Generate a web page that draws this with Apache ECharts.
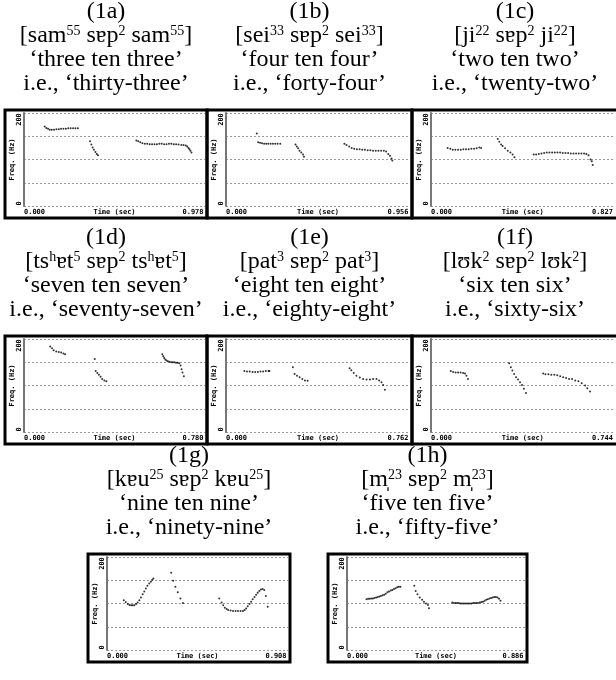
<!DOCTYPE html>
<html>
<head>
<meta charset="utf-8">
<title>Cantonese number pitch tracks</title>
<script src="https://cdn.jsdelivr.net/npm/echarts@6/dist/echarts.min.js"></script>
<style>
  html, body { margin: 0; padding: 0; background: #fff; }
  #chart { width: 616px; height: 680px; }
</style>
</head>
<body>
<div id="chart"></div>
<script>
// panel captions
const panelIds = ['(1a)', '(1b)', '(1c)', '(1d)', '(1e)', '(1f)', '(1g)', '(1h)']
const words = [
  '[sam{s|55} sɐp{s|2} sam{s|55}]',
  '[sei{s|33} sɐp{s|2} sei{s|33}]',
  '[ji{s|22} sɐp{s|2} ji{s|22}]',
  '[ts{s|h}ɐt{s|5} sɐp{s|2} ts{s|h}ɐt{s|5}]',
  '[pat{s|3} sɐp{s|2} pat{s|3}]',
  '[lʊk{s|2} sɐp{s|2} lʊk{s|2}]',
  '[kɐu{s|25} sɐp{s|2} kɐu{s|25}]',
  '[m̩{s|23} sɐp{s|2} m̩{s|23}]'
]
const glosses = ['‘three ten three’', '‘four ten four’', '‘two ten two’', '‘seven ten seven’',
  '‘eight ten eight’', '‘six ten six’', '‘nine ten nine’', '‘five ten five’']
const meanings = ['i.e., ‘thirty-three’', 'i.e., ‘forty-four’', 'i.e., ‘twenty-two’', 'i.e., ‘seventy-seven’',
  'i.e., ‘eighty-eight’', 'i.e., ‘sixty-six’', 'i.e., ‘ninety-nine’', 'i.e., ‘fifty-five’']

// time axis end (sec) of each panel
const durations = [0.978, 0.956, 0.827, 0.780, 0.762, 0.744, 0.908, 0.886]
// frequency axis (Hz)
const freqMin = 0
const freqMax = 200
const freqStep = 50
const freqLabels = [0, 200]

// pitch tracks [time (sec), F0 (Hz)]
const f0_1a = [
  [0.112, 171], [0.121, 168], [0.130, 166], [0.139, 164], [0.150, 164], [0.162, 164], [0.175, 165],
  [0.188, 165], [0.200, 166], [0.213, 166], [0.226, 166], [0.239, 167], [0.252, 167], [0.265, 167],
  [0.278, 167], [0.291, 167],
  [0.357, 139], [0.364, 132], [0.371, 126], [0.378, 121], [0.386, 116], [0.393, 112], [0.400, 109],
  [0.607, 141], [0.617, 139], [0.628, 137], [0.640, 135], [0.653, 134], [0.666, 134], [0.679, 133],
  [0.692, 133], [0.705, 133], [0.718, 133], [0.731, 134], [0.744, 134], [0.757, 133], [0.770, 133],
  [0.783, 134], [0.796, 134], [0.809, 133], [0.822, 133], [0.835, 132], [0.850, 131], [0.862, 131],
  [0.874, 130], [0.882, 128], [0.889, 125], [0.894, 122], [0.899, 119], [0.905, 115]
]
const f0_1b = [
  [0.160, 156], [0.167, 137], [0.177, 136], [0.187, 135], [0.198, 134], [0.209, 134], [0.220, 134],
  [0.232, 134], [0.244, 134], [0.256, 134], [0.268, 134], [0.282, 134],
  [0.361, 132], [0.368, 128], [0.375, 124], [0.382, 119], [0.391, 115], [0.400, 111], [0.405, 106],
  [0.615, 134], [0.626, 131], [0.640, 128], [0.653, 125], [0.666, 123], [0.680, 122], [0.694, 122],
  [0.708, 121], [0.722, 121], [0.736, 120], [0.750, 120], [0.764, 119], [0.778, 119], [0.792, 119],
  [0.806, 119], [0.820, 119], [0.832, 117], [0.843, 112], [0.852, 108], [0.860, 102], [0.864, 98]
]
const f0_1c = [
  [0.075, 125], [0.087, 123], [0.098, 121], [0.110, 121], [0.122, 121], [0.134, 121], [0.146, 122],
  [0.158, 122], [0.170, 122], [0.182, 123], [0.194, 123], [0.206, 124], [0.218, 126], [0.226, 125],
  [0.301, 144], [0.308, 138], [0.316, 132], [0.323, 129], [0.334, 124], [0.346, 119], [0.358, 115],
  [0.368, 111], [0.376, 105],
  [0.463, 111], [0.474, 111], [0.486, 112], [0.498, 113], [0.510, 114], [0.522, 115], [0.534, 115],
  [0.546, 115], [0.558, 115], [0.570, 115], [0.582, 115], [0.594, 114], [0.606, 114], [0.618, 114],
  [0.630, 113], [0.642, 113], [0.654, 113], [0.666, 113], [0.678, 113], [0.690, 113], [0.700, 112],
  [0.710, 109], [0.719, 100], [0.725, 96], [0.729, 88]
]
const f0_1d = [
  [0.113, 184], [0.121, 180], [0.128, 176], [0.139, 173], [0.150, 172], [0.160, 171], [0.170, 169],
  [0.177, 167],
  [0.305, 157], [0.309, 131], [0.316, 127], [0.323, 123], [0.330, 119], [0.337, 114], [0.346, 111],
  [0.355, 109],
  [0.596, 167], [0.600, 163], [0.604, 159], [0.609, 156], [0.614, 154], [0.620, 152], [0.627, 151],
  [0.634, 150], [0.641, 150], [0.648, 150], [0.655, 149], [0.662, 149], [0.669, 148], [0.675, 143],
  [0.679, 135], [0.683, 128], [0.689, 120]
]
const f0_1e = [
  [0.076, 131], [0.087, 130], [0.098, 130], [0.110, 129], [0.121, 129], [0.132, 129], [0.143, 130],
  [0.154, 130], [0.165, 131], [0.176, 131], [0.180, 131],
  [0.277, 139], [0.284, 125], [0.294, 121], [0.305, 118], [0.316, 114], [0.327, 111], [0.338, 110],
  [0.512, 137], [0.519, 133], [0.529, 127], [0.540, 121], [0.554, 117], [0.568, 114], [0.582, 113],
  [0.596, 113], [0.609, 114], [0.623, 114], [0.634, 111], [0.644, 107], [0.651, 101], [0.658, 91]
]
const f0_1f = [
  [0.080, 131], [0.090, 129], [0.100, 128], [0.110, 128], [0.120, 128], [0.130, 127], [0.138, 126],
  [0.144, 121], [0.150, 114],
  [0.317, 148], [0.324, 139], [0.330, 132], [0.337, 125], [0.345, 118], [0.353, 113], [0.361, 107],
  [0.369, 101], [0.377, 93], [0.385, 84],
  [0.455, 126], [0.464, 124], [0.476, 124], [0.488, 123], [0.500, 123], [0.512, 122], [0.524, 120],
  [0.536, 118], [0.548, 116], [0.560, 114], [0.572, 114], [0.585, 111], [0.598, 109], [0.611, 105],
  [0.625, 100], [0.634, 94], [0.645, 87]
]
const f0_1g = [
  [0.084, 107], [0.094, 103], [0.104, 99], [0.113, 97], [0.121, 96], [0.129, 96], [0.137, 96],
  [0.146, 99], [0.154, 102], [0.162, 107], [0.170, 113], [0.179, 120], [0.187, 126], [0.195, 132],
  [0.203, 138], [0.212, 143], [0.220, 147], [0.227, 151], [0.233, 154],
  [0.322, 166], [0.332, 149], [0.343, 136], [0.355, 124], [0.368, 111], [0.381, 101],
  [0.563, 111], [0.575, 102], [0.583, 96], [0.591, 91], [0.600, 88], [0.608, 86], [0.620, 85],
  [0.632, 84], [0.645, 84], [0.657, 84], [0.670, 84], [0.682, 84], [0.690, 86], [0.698, 89],
  [0.706, 94], [0.715, 99], [0.723, 104], [0.731, 109], [0.740, 114], [0.748, 119], [0.756, 123],
  [0.764, 127], [0.772, 130], [0.781, 131], [0.789, 129], [0.797, 116], [0.806, 93]
]
const f0_1h = [
  [0.097, 109], [0.105, 110], [0.113, 110], [0.121, 111], [0.129, 111], [0.137, 112], [0.145, 113],
  [0.153, 114], [0.161, 115], [0.169, 116], [0.177, 118], [0.185, 119], [0.193, 121], [0.201, 124],
  [0.209, 126], [0.218, 128], [0.226, 129], [0.234, 131], [0.242, 133], [0.250, 135], [0.258, 136],
  [0.266, 136],
  [0.335, 138], [0.342, 127], [0.351, 120], [0.362, 113], [0.374, 108], [0.383, 104], [0.393, 100],
  [0.403, 97], [0.408, 90],
  [0.524, 102], [0.532, 101], [0.540, 101], [0.548, 101], [0.556, 101], [0.564, 100], [0.572, 100],
  [0.580, 100], [0.588, 100], [0.596, 100], [0.604, 100], [0.612, 100], [0.620, 100], [0.628, 101],
  [0.636, 101], [0.644, 101], [0.652, 101], [0.661, 102], [0.669, 103], [0.677, 104], [0.685, 106],
  [0.693, 108], [0.701, 109], [0.709, 111], [0.717, 112], [0.725, 113], [0.733, 114], [0.741, 114],
  [0.749, 113], [0.757, 110], [0.764, 106]
]
const pitchTracks = [f0_1a, f0_1b, f0_1c, f0_1d, f0_1e, f0_1f, f0_1g, f0_1h]

// panel placement (px)
const rowTop = [110, 336, 554]
const panelRow = [0, 0, 0, 1, 1, 1, 2, 2]
const boxLeft = [5, 207, 412, 5, 207, 412, 88, 328]
const boxRight = [207, 412, 618, 207, 412, 618, 290, 527]
const boxHeight = 108
const plotHeight = 93

const serif = '"Liberation Serif", "Times New Roman", "DejaVu Serif", serif'
const mono = '"DejaVu Sans Mono", "Liberation Mono", monospace'

const chart = echarts.init(document.getElementById('chart'), null, { renderer: 'canvas' })

const grids = []
const xAxes = []
const yAxes = []
const series = []
const titles = []
const frames = []

for (let i = 0; i < panelIds.length; i++) {
  const top = rowTop[panelRow[i]]
  const left = boxLeft[i]
  const right = boxRight[i]
  const dur = durations[i]

  grids.push({
    left: left + 19,
    top: top + 3,
    width: right - left - 21,
    height: plotHeight,
    containLabel: false
  })

  xAxes.push({
    type: 'value',
    gridIndex: i,
    min: 0,
    max: dur,
    interval: dur,
    name: 'Time (sec)',
    nameLocation: 'middle',
    nameGap: 3,
    nameMoveOverlap: false,
    nameTextStyle: { fontFamily: mono, fontWeight: 'bold', fontSize: 7, color: '#000', verticalAlign: 'top' },
    axisLine: { show: false },
    axisTick: { show: false },
    splitLine: { show: false },
    axisLabel: {
      margin: 3,
      fontFamily: mono,
      fontWeight: 'bold',
      fontSize: 7,
      color: '#000',
      formatter: function (v) {
        return v === 0 ? '{l|' + v.toFixed(3) + '}' : '{r|' + v.toFixed(3) + '}'
      },
      rich: {
        l: { fontFamily: mono, fontWeight: 'bold', fontSize: 7, color: '#000', padding: [0, 0, 0, 21] },
        r: { fontFamily: mono, fontWeight: 'bold', fontSize: 7, color: '#000', padding: [0, 24, 0, 0] }
      }
    }
  })

  yAxes.push({
    type: 'value',
    gridIndex: i,
    min: freqMin,
    max: freqMax,
    interval: freqStep,
    name: 'Freq. (Hz)',
    nameLocation: 'middle',
    nameGap: 8,
    nameMoveOverlap: false,
    nameTextStyle: { fontFamily: mono, fontWeight: 'bold', fontSize: 7, color: '#000' },
    axisLine: { show: true, lineStyle: { color: '#777', width: 2 } },
    axisTick: { show: false },
    splitLine: { show: true, lineStyle: { color: '#9a9a9a', width: 1, type: [2, 2] } },
    axisLabel: {
      rotate: 90,
      margin: 1,
      align: 'center',
      verticalAlign: 'bottom',
      fontFamily: mono,
      fontWeight: 'bold',
      fontSize: 7,
      color: '#000',
      formatter: function (v) {
        if (freqLabels.indexOf(v) < 0) return ''
        return v === freqMax ? '{t|' + v + '}' : '{b|' + v + '}'
      },
      rich: {
        t: { fontFamily: mono, fontWeight: 'bold', fontSize: 7, color: '#000', padding: [0, 13, 0, 0] },
        b: { fontFamily: mono, fontWeight: 'bold', fontSize: 7, color: '#000', padding: [0, 0, 0, 5] }
      }
    }
  })

  series.push({
    type: 'scatter',
    xAxisIndex: i,
    yAxisIndex: i,
    symbol: 'circle',
    symbolSize: 2,
    itemStyle: { color: '#000' },
    silent: true,
    data: pitchTracks[i]
  })

  titles.push({
    text: [panelIds[i], words[i], glosses[i], meanings[i]].join('\n'),
    left: (left + right) / 2,
    top: top - 110,
    textAlign: 'center',
    padding: 0,
    textStyle: {
      fontFamily: serif,
      fontSize: 24,
      lineHeight: 24,
      fontWeight: 'normal',
      color: '#000',
      rich: {
        s: { fontFamily: serif, fontSize: 14, lineHeight: 14, verticalAlign: 'top', color: '#000' }
      }
    }
  })

  // black frame around each pitch window
  frames.push({
    type: 'rect',
    silent: true,
    shape: { x: left, y: top, width: right - left, height: boxHeight },
    style: { fill: 'none', stroke: '#000', lineWidth: 3 }
  })
}

chart.setOption({
  backgroundColor: '#fff',
  animation: false,
  title: titles,
  grid: grids,
  xAxis: xAxes,
  yAxis: yAxes,
  series: series,
  graphic: frames
})
</script>
</body>
</html>
